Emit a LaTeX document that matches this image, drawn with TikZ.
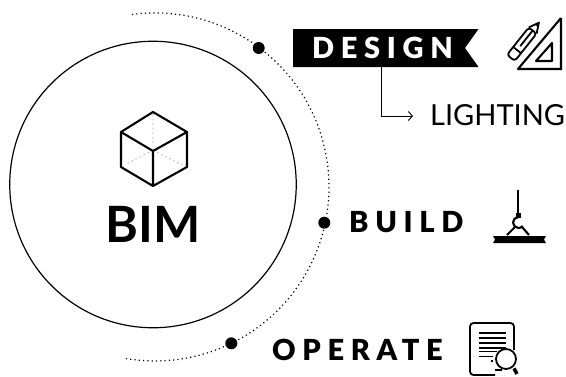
\documentclass[tikz,border=0pt]{standalone}
\usepackage{fontspec}
\setmainfont[BoldFont={Lato Bold}]{Lato}
\newfontfamily\spacedbold[LetterSpace=23]{Lato Black}
\usetikzlibrary{arrows.meta}
\tikzset{
  icon/.style={line width=2.1pt,line join=round,black},
  spacedlabel/.style={font=\spacedbold\fontsize{29}{30}\selectfont,inner sep=0pt,anchor=base west},
  milestone/.style={circle,fill=black,minimum size=12pt,inner sep=0pt},
  orbit/.style={line width=1.2pt,dash pattern=on 1.2pt off 3.1pt,line cap=butt},
}
\begin{document}
\begin{tikzpicture}[x=1pt,y=-1pt]
\useasboundingbox (0,0) rectangle (566,376);
% main circle
\node[circle,draw,line width=1.2pt,minimum size=286.5pt,inner sep=0pt] (main) at (153,184.5) {};
% orbit
\draw[orbit] (132,14.5) arc[start angle=97.6,end angle=-100.6,radius=174pt];
\node[milestone] (d1) at (258.7,48) {};
\node[milestone] (d2) at (324.3,222.7) {};
\node[milestone] (d3) at (231.3,343.3) {};
% BIM
\node[font=\bfseries\fontsize{50}{52}\selectfont,inner sep=0pt,anchor=base] (bim) at (153,242) {BIM};
% cube
\draw[line width=0.6pt,gray!60,dash pattern=on 2pt off 2.5pt] (153,114) -- (153,147) (153,150) -- (127,164) (153,150) -- (182,165);
\draw[icon] (153,112) -- (187,132) -- (187,167) -- (153,186) -- (121,167) -- (121,132) -- cycle
  (121,132) -- (153,151) -- (187,132) (153,151) -- (153,186);
% banner
\fill (293,29) -- (478.5,29) -- (465,48) -- (478.5,67) -- (293,67) -- cycle;
\coordinate (bannerfoot) at (381,67);
\node[spacedlabel,text=white] (design) at (312,58) {DESIGN};
\node[spacedlabel] (build) at (349,232) {BUILD};
\node[spacedlabel] (operate) at (272,360) {OPERATE};
\node[font=\fontsize{29}{30}\selectfont,inner sep=0pt,anchor=base west] (lighting) at (430,125) {LIGHTING};
\coordinate (lightin) at (413,116);
\draw[line width=0.9pt,-{Straight Barb[length=4pt,width=9pt,line width=0.9pt]}] (bannerfoot) |- (lightin);
% design icon
\draw[icon] (561,18) -- (561,69) (562,69) -- (518,69) -- (561,18);
\draw[icon] (536,61) -- (552,61) -- (552,43) -- cycle;
\begin{scope}[shift={(514,54)},rotate=51.5,icon,line width=1.8pt]
  \draw[rounded corners=3pt] (-5,-5) -- (30,-5) -- (30,5) -- (-5,5) -- cycle;
  \draw (30,-5) -- (40,0) -- (30,5);
  \draw (5,-5) -- (5,5) (10,0) -- (30,0);
  \fill (36,-2) -- (41,0) -- (36,2) -- cycle;
\end{scope}
% build icon
\draw[icon,line width=2.2pt] (518,190) -- (518,215);
\fill (515.5,213) rectangle (520.5,218);
\draw[icon] (518.5,217) arc[start angle=90,end angle=320,radius=5.5pt];
\draw[icon] (507,235) -- (516,226) (529,235) -- (522,227);
\fill (493,236) -- (546,236) -- (544,239.5) -- (546,243) -- (493,243) -- (495,239.5) -- cycle;
% operate icon
\draw[icon,line width=1.8pt,rounded corners=3.5pt] (514,350) -- (514,323) -- (470,323) -- (470,375) -- (495,375);
\foreach \yy in {333,338,343,348} \draw[line width=1.5pt] (479,\yy) -- (506,\yy);
\draw[line width=1.5pt] (479,351.5) -- (497,351.5) (479,356.5) -- (493,356.5);
\draw[line width=1.5pt] (491,361) -- (493,361) (495,370) -- (502,370);
\node[circle,draw,fill=white,line width=1.8pt,minimum size=20pt,inner sep=0pt] (lens) at (506,359) {};
\coordinate (handle) at (517,374);
\draw[line width=3.5pt] (lens.-50) ++(1,1) -- (handle);
\end{tikzpicture}
\end{document}
